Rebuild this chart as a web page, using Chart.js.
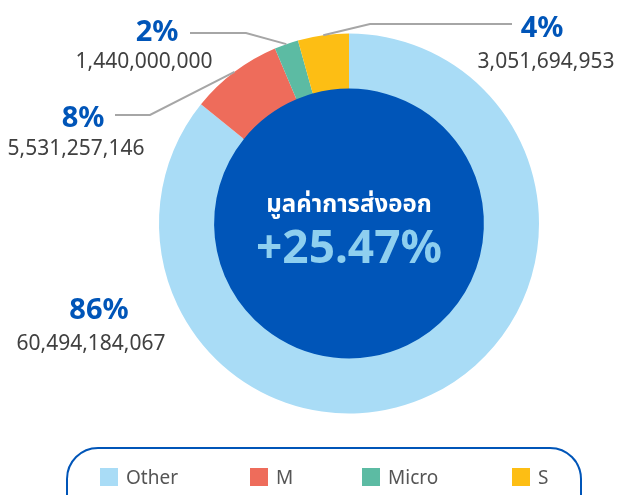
<!DOCTYPE html>
<html>
<head>
<meta charset="utf-8">
<script src="https://cdn.jsdelivr.net/npm/chart.js@4"></script>
<style>
  html, body { margin: 0; padding: 0; background: #fff; overflow: hidden; }
  body { width: 618px; height: 495px; position: relative; font-family: "Noto Sans", "Noto Sans Thai", sans-serif; }
  #chart { position: absolute; left: 0; top: 0; }
  #legend {
    position: absolute; left: 66px; top: 447px; width: 512px; height: 80px;
    border: 2px solid #0055B8; border-radius: 32px;
  }
  .item { position: absolute; top: 15px; display: flex; align-items: center; color: #555; font-size: 19px; }
  .item span.box { width: 18px; height: 18px; margin-right: 8px; }
</style>
</head>
<body>
<canvas id="chart" width="618" height="495"></canvas>
<div id="legend"></div>
<script>
// Data
const categories = ['Other', 'M', 'Micro', 'S'];
const exportValues = [60494184067, 5531257146, 1440000000, 3051694953];
const percentLabels = ['86%', '8%', '2%', '4%'];
const centerTitle = 'มูลค่าการส่งออก';
const centerValue = '+25.47%';

// Styles
const ringColors = ['#A9DCF6', '#EE6C5B', '#5CBBA3', '#FDBE14'];
const darkBlue = '#0055B8';
const FONT = '"Noto Sans", "Noto Sans Thai", sans-serif';

// Callout placement (text centres, baselines for the two lines, leader elbow)
const callouts = [
  { pctX: 99, numX: 91, pctY: 319, numY: 350, elbow: null },
  { pctX: 83, numX: 76, pctY: 127, numY: 155, elbow: [[115, 115], [150, 115]] },
  { pctX: 157, numX: 144, pctY: 41, numY: 68, elbow: [[190, 33], [246, 33]] },
  { pctX: 542, numX: 546, pctY: 37, numY: 68, elbow: [[512, 24], [370, 24]] }
];
const legendLeft = [32, 182, 294, 444];

const fmt = (n) => n.toLocaleString('en-US');

const calloutPlugin = {
  id: 'callouts',
  beforeDatasetsDraw(chart) {
    const arc = chart.getDatasetMeta(0).data[0];
    const { x, y, innerRadius } = arc.getProps(['x', 'y', 'innerRadius'], true);
    const ctx = chart.ctx;
    ctx.save();
    ctx.fillStyle = darkBlue;
    ctx.beginPath();
    ctx.arc(x, y, innerRadius + 1, 0, Math.PI * 2);
    ctx.fill();
    ctx.restore();
  },
  afterDatasetsDraw(chart) {
    const ctx = chart.ctx;
    const meta = chart.getDatasetMeta(0);
    const first = meta.data[0].getProps(['x', 'y'], true);

    // centre text
    ctx.save();
    ctx.textAlign = 'center';
    ctx.textBaseline = 'alphabetic';
    ctx.fillStyle = '#fff';
    ctx.font = 'bold 24px ' + FONT;
    ctx.fillText(centerTitle, first.x, 212);
    ctx.fillStyle = '#8ECFEF';
    ctx.font = 'bold 46px ' + FONT;
    ctx.fillText(centerValue, first.x, 263);

    meta.data.forEach((el, i) => {
      const c = callouts[i];
      const p = el.getProps(['x', 'y', 'startAngle', 'endAngle', 'outerRadius'], true);
      if (c.elbow) {
        const mid = (p.startAngle + p.endAngle) / 2;
        const ax = p.x + Math.cos(mid) * p.outerRadius;
        const ay = p.y + Math.sin(mid) * p.outerRadius;
        ctx.strokeStyle = '#A6A6A6';
        ctx.lineWidth = 2;
        ctx.beginPath();
        ctx.moveTo(c.elbow[0][0], c.elbow[0][1]);
        ctx.lineTo(c.elbow[1][0], c.elbow[1][1]);
        ctx.lineTo(ax, ay);
        ctx.stroke();
      }
      ctx.fillStyle = darkBlue;
      ctx.font = 'bold 29px ' + FONT;
      ctx.fillText(percentLabels[i], c.pctX, c.pctY);
      ctx.fillStyle = '#404040';
      ctx.font = '21px ' + FONT;
      ctx.fillText(fmt(exportValues[i]), c.numX, c.numY);
    });
    ctx.restore();
  }
};

new Chart(document.getElementById('chart'), {
  type: 'doughnut',
  data: {
    labels: categories,
    datasets: [{
      data: exportValues,
      backgroundColor: ringColors,
      borderWidth: 0
    }]
  },
  options: {
    responsive: false,
    animation: false,
    cutout: '71%',
    layout: { padding: { left: 159, right: 79, top: 33, bottom: 81 } },
    plugins: { legend: { display: false }, tooltip: { enabled: false } }
  },
  plugins: [calloutPlugin]
});

// HTML legend
const legend = document.getElementById('legend');
categories.forEach((name, i) => {
  const item = document.createElement('div');
  item.className = 'item';
  item.style.left = legendLeft[i] + 'px';
  item.innerHTML = `<span class="box" style="background:${ringColors[i]}"></span>${name}`;
  legend.appendChild(item);
});
</script>
</body>
</html>
